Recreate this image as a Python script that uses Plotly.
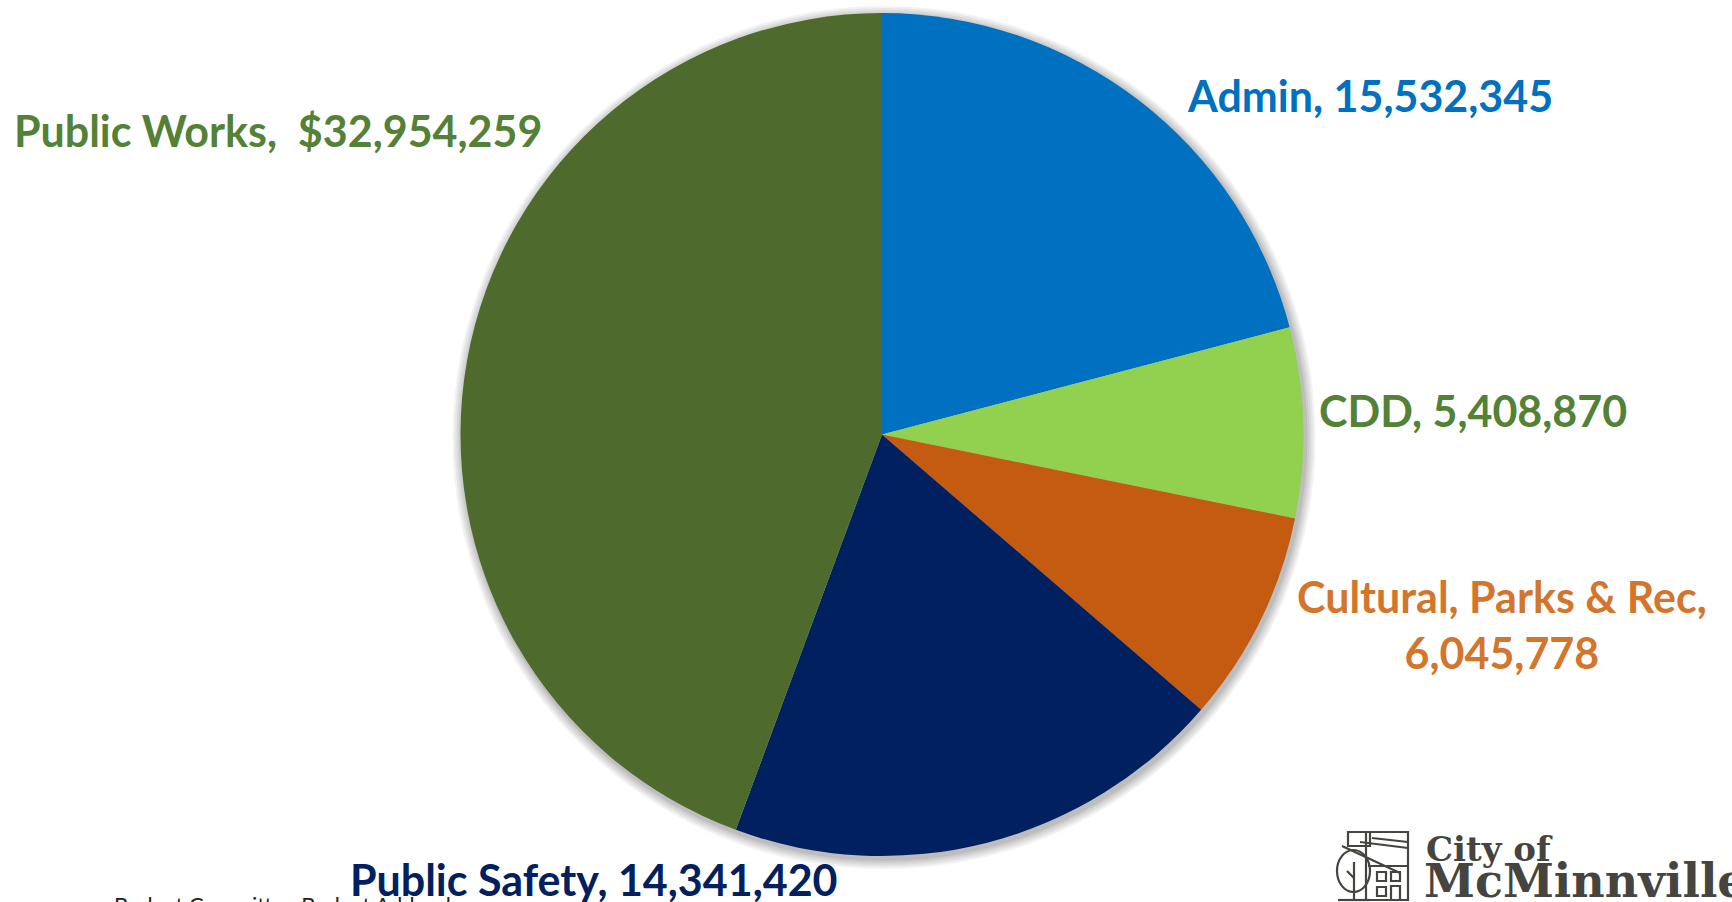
import plotly.graph_objects as go

# Department budget totals
departments = ["Admin", "CDD", "Cultural, Parks & Rec", "Public Safety", "Public Works"]
budgets = [15532345, 5408870, 6045778, 14341420, 32954259]
slice_colors = ["#0070C0", "#92D050", "#C55A11", "#002060", "#4E6B2D"]
label_colors = ["#0070C0", "#538135", "#D4752C", "#002060", "#538135"]

W, H = 1732, 902

# pie placement in pixels
CX, CY, R = 882, 434.5, 421.5


def fx(px):
    return px / W


def fy(py):
    return 1 - py / H


fig = go.Figure()

fig.add_trace(go.Pie(
    labels=departments,
    values=budgets,
    sort=False,
    direction="clockwise",
    rotation=0,
    textinfo="none",
    hoverinfo="label+value+percent",
    marker=dict(colors=slice_colors, line=dict(width=0)),
    domain=dict(x=[fx(CX - R), fx(CX + R)], y=[fy(CY + R), fy(CY - R)]),
    showlegend=False,
))

shapes = []
# soft drop shadow behind the pie
for i, op in enumerate([0.05, 0.05, 0.05, 0.06, 0.07]):
    grow = 10 - 2 * i
    shapes.append(dict(
        type="circle", xref="paper", yref="paper", layer="below",
        x0=fx(CX + 2 - R - grow), x1=fx(CX + 2 + R + grow),
        y0=fy(CY + 3 + R + grow), y1=fy(CY + 3 - R - grow),
        fillcolor=f"rgba(0,0,0,{op})", line=dict(width=0),
    ))

# label text: name plus value
def fmt(name, v):
    if name == "Public Works":
        return f"{name},  ${v:,}"
    if name.startswith("Cultural"):
        return f"{name},<br>{v:,}"
    return f"{name}, {v:,}"


label_pos = {
    "Admin": (1370, 95),
    "CDD": (1473, 410),
    "Cultural, Parks & Rec": (1502, 624),
    "Public Safety": (594, 879),
    "Public Works": (278, 130),
}

annotations = []
for name, v, col in zip(departments, budgets, label_colors):
    x, y = label_pos[name]
    annotations.append(dict(
        x=fx(x), y=fy(y), xref="paper", yref="paper",
        text=f"<b>{fmt(name, v)}</b>", showarrow=False,
        xanchor="center", yanchor="middle", align="center",
        font=dict(family="Lato", size=43, color=col),
    ))

# footer line
annotations.append(dict(
    x=fx(112), y=fy(889), xref="paper", yref="paper",
    text="Budget Committee Budget Addendum", showarrow=False,
    xanchor="left", yanchor="top",
    font=dict(family="Lato", size=22, color="#222222"),
))

# logo wordmark
logo_color = "#45443E"
annotations.append(dict(
    x=fx(1424), y=fy(827), xref="paper", yref="paper",
    text="<b>City of</b>", showarrow=False, xanchor="left", yanchor="top",
    font=dict(family="DejaVu Serif", size=34, color=logo_color),
))
annotations.append(dict(
    x=fx(1422), y=fy(852), xref="paper", yref="paper",
    text="<b>McMinnville</b>", showarrow=False, xanchor="left", yanchor="top",
    font=dict(family="DejaVu Serif", size=46, color=logo_color),
))

# logo emblem: hills, barn, tree and building outlines
def line(x0, y0, x1, y1):
    return dict(type="line", xref="paper", yref="paper",
                x0=fx(x0), y0=fy(y0), x1=fx(x1), y1=fy(y1),
                line=dict(color=logo_color, width=2.2))


def rect(x0, y0, x1, y1):
    return dict(type="rect", xref="paper", yref="paper",
                x0=fx(x0), y0=fy(y0), x1=fx(x1), y1=fy(y1),
                line=dict(color=logo_color, width=2.2))


shapes += [
    rect(1366, 832, 1408, 900),
    rect(1348, 832, 1370, 846),
    line(1342, 846, 1400, 873),
    line(1360, 842, 1408, 848),
    line(1372, 838, 1408, 842),
    rect(1377, 872, 1386, 881),
    rect(1391, 872, 1400, 881),
    rect(1377, 887, 1386, 896),
    rect(1391, 886, 1400, 900),
    line(1368, 866, 1408, 866),
    dict(type="circle", xref="paper", yref="paper",
         x0=fx(1337), x1=fx(1370), y0=fy(892), y1=fy(850),
         line=dict(color=logo_color, width=2.2)),
    line(1354, 862, 1354, 900),
    line(1354, 878, 1347, 871),
    line(1338, 900, 1370, 900),
]

fig.update_layout(
    width=W, height=H,
    margin=dict(l=0, r=0, t=0, b=0),
    paper_bgcolor="white", plot_bgcolor="white",
    shapes=shapes, annotations=annotations,
)

fig.write_html("out.html", config={"displayModeBar": False})
